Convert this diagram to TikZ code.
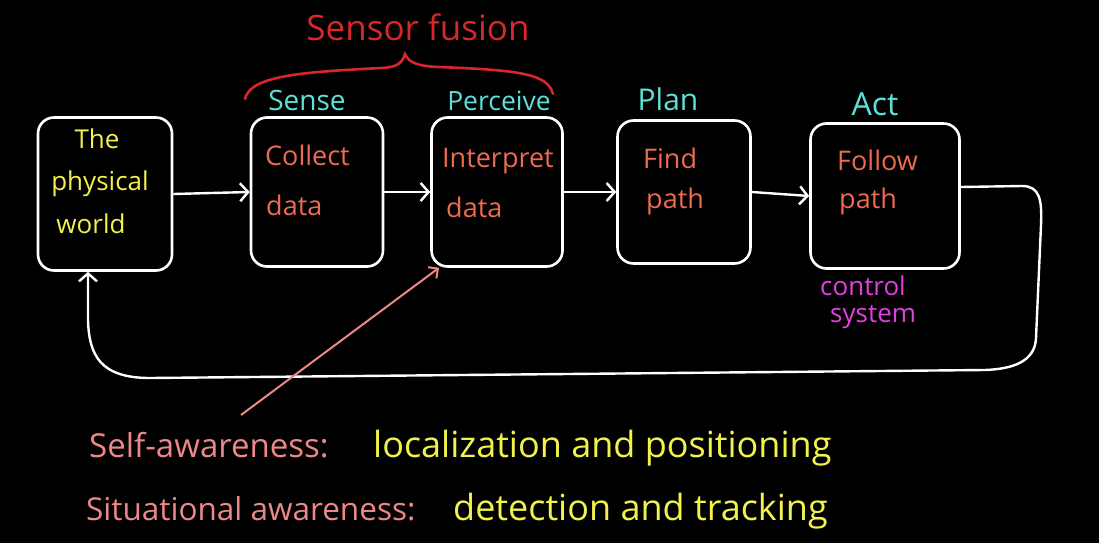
\documentclass[tikz,border=0pt]{standalone}
\usepackage{fontspec}
\setmainfont{Open Sans}
\usetikzlibrary{arrows.meta}
\definecolor{cyn}{HTML}{5CE1DA}
\definecolor{fus}{HTML}{D9262B}
\definecolor{txt}{HTML}{EE6A50}
\definecolor{yel}{HTML}{F2F24A}
\definecolor{mag}{HTML}{E23FE0}
\definecolor{pnk}{HTML}{EE8888}
\tikzset{
  blk/.style={draw=white, line width=2.6pt, rounded corners=16pt, inner sep=0pt},
  flow/.style={draw=white, line width=2.4pt, -{Straight Barb[length=8pt,width=18pt,line width=2.4pt]}},
  pflow/.style={draw=pnk, line width=2pt, -{Straight Barb[length=7pt,width=14pt,line width=2pt]}},
  stage/.style={text=cyn, inner sep=0pt, anchor=base},
  boxtxt/.style={text=txt, font=\fontsize{27}{30}\selectfont, inner sep=0pt, anchor=base west},
  worldtxt/.style={text=yel, font=\fontsize{26}{30}\selectfont, inner sep=0pt, anchor=base},
  ctrl/.style={text=mag, font=\fontsize{26}{30}\selectfont, inner sep=0pt, anchor=base west},
  awlab/.style={text=pnk, inner sep=0pt, anchor=base west},
  awval/.style={text=yel, font=\fontsize{36}{40}\selectfont, inner sep=0pt, anchor=base west},
}
\begin{document}
\begin{tikzpicture}[x=1pt,y=-1pt]
\fill[black] (0,0) rectangle (1099,543);
\useasboundingbox (0,0) rectangle (1099,543);

% boxes
\node[blk, minimum width=134pt, minimum height=153pt] (world) at (105,194) {};
\node[blk, minimum width=132pt, minimum height=149pt] (collect) at (317,192) {};
\node[blk, minimum width=131pt, minimum height=149pt] (interp) at (497,192) {};
\node[blk, minimum width=133pt, minimum height=143pt] (plan) at (684,192) {};
\node[blk, minimum width=149pt, minimum height=145pt] (act) at (885,196) {};

% stage labels
\node[text=fus, font=\fontsize{35}{38}\selectfont, inner sep=0pt, anchor=base] (fusion) at (418,41) {Sensor fusion};
\node[stage, font=\fontsize{28}{30}\selectfont] (sense) at (307,110) {Sense};
\node[stage, font=\fontsize{26.5}{29}\selectfont] (perceive) at (499,110) {Perceive};
\node[stage, font=\fontsize{30}{32}\selectfont] (planlab) at (668,110) {Plan};
\node[stage, font=\fontsize{32}{34}\selectfont] (actlab) at (875,115) {Act};

% brace
\draw[fus, line width=2.6pt, line cap=round] (245,99) .. controls (250,76) and (300,72) .. (382,68)
  .. controls (398,67) and (402,63) .. (405,54)
  .. controls (409,63) and (418,66) .. (438,67)
  .. controls (520,70) and (548,74) .. (553,94);

% box texts
\node[worldtxt] (t1) at (97,148) {The};
\node[worldtxt] (t2) at (100,190) {physical};
\node[worldtxt] (t3) at (91,233) {world};
\node[boxtxt] (c1) at (265,165) {Collect};
\node[boxtxt] (c2) at (266,215) {data};
\node[boxtxt] (i1) at (442,167) {Interpret};
\node[boxtxt] (i2) at (446,217) {data};
\node[boxtxt] (f1) at (643,168) {Find};
\node[boxtxt] (f2) at (646,208) {path};
\node[boxtxt] (a1) at (837,170) {Follow};
\node[boxtxt] (a2) at (839,208) {path};

\node[ctrl] (ctl1) at (820,295) {control};
\node[ctrl] (ctl2) at (830,322) {system};

% connectors
\draw[flow] (world.east) -- (collect.west);
\draw[flow] (collect.east) -- (interp.west);
\draw[flow] (interp.east) -- (plan.west);
\draw[flow] (plan.east) -- (act.west);

% feedback loop
\draw[flow] ([yshift=9pt]act.east) -- (1022,186)
  .. controls (1040,186) and (1042,200) .. (1041,225)
  -- (1036,338)
  .. controls (1035,362) and (1012,369) .. (985,370)
  -- (150,378)
  .. controls (100,378) and (89,355) .. (88,320)
  -- ([xshift=-17pt]world.south);

% self-awareness arrow
\coordinate (selfstart) at (241,415);
\draw[pflow] (selfstart) -- ([xshift=-58pt]interp.south);

% bottom texts
\node[awlab, font=\fontsize{33}{36}\selectfont] (sa1) at (89,457) {Self-awareness:};
\node[awval] (sa2) at (373,457) {localization and positioning};
\node[awlab, font=\fontsize{31.5}{35}\selectfont] (si1) at (86,520) {Situational awareness:};
\node[awval] (si2) at (453,520) {detection and tracking};
\end{tikzpicture}
\end{document}
